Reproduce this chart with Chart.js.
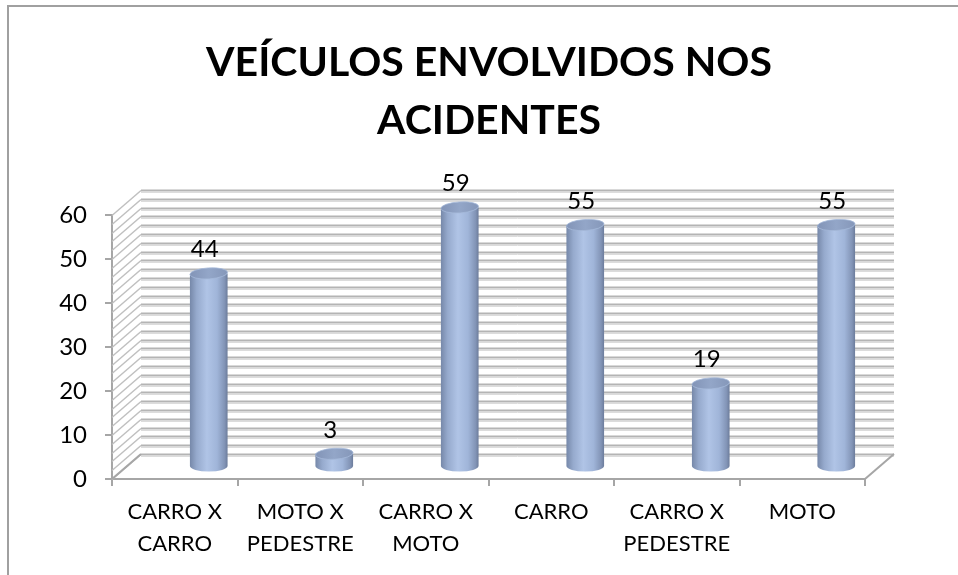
<!DOCTYPE html>
<html>
<head>
<meta charset="utf-8">
<script src="https://cdn.jsdelivr.net/npm/chart.js@4.4.1/dist/chart.umd.min.js"></script>
<style>
  html, body { margin: 0; padding: 0; background: #fff; }
  #wrap { width: 958px; height: 575px; }
</style>
</head>
<body>
<div id="wrap"><canvas id="chart"></canvas></div>
<script>
// data
const titleLines = ['VEÍCULOS ENVOLVIDOS NOS', 'ACIDENTES'];
const categories = [
    ['CARRO X', 'CARRO'],
    ['MOTO X', 'PEDESTRE'],
    ['CARRO X', 'MOTO'],
    ['CARRO'],
    ['CARRO X', 'PEDESTRE'],
    ['MOTO'],
];
const values = [44, 3, 59, 55, 19, 55];
const yMin = 0, yMax = 60, yStep = 10;
const minorStep = 2; // minor gridlines on the walls

// 3D look
const wallDepth = { dx: 29, dy: -25 };
const barDepth = { dx: 34, dy: -12 };
const axisGray = '#a6a6a6';
const fontFamily = 'Lato, "Open Sans", sans-serif';

// frame around the chart object
const framePlugin = {
    id: 'frame',
    beforeDraw(chart) {
        const ctx = chart.ctx;
        ctx.save();
        ctx.strokeStyle = '#a0a0a0';
        ctx.lineWidth = 2;
        ctx.beginPath();
        ctx.moveTo(8, 575);
        ctx.lineTo(8, 6);
        ctx.lineTo(958, 6);
        ctx.stroke();
        ctx.restore();
    }
};

// back wall, side wall and floor
const wallsPlugin = {
    id: 'walls',
    beforeDatasetsDraw(chart) {
        const ctx = chart.ctx;
        const ca = chart.chartArea;
        const y = chart.scales.y;
        const dx = wallDepth.dx, dy = wallDepth.dy;
        ctx.save();
        // gridlines on back wall + diagonals on side wall
        for (let v = yMin; v <= yMax; v += minorStep) {
            const py = Math.round(y.getPixelForValue(v)) + 0.5;
            ctx.lineWidth = 2;
            ctx.strokeStyle = '#b4b4b4';
            ctx.beginPath();
            ctx.moveTo(ca.left + dx, py + dy);
            ctx.lineTo(ca.right + dx, py + dy);
            ctx.stroke();
            ctx.lineWidth = 1;
            ctx.strokeStyle = '#dcdcdc';
            ctx.beginPath();
            ctx.moveTo(ca.left + dx, py + dy + 2);
            ctx.lineTo(ca.right + dx, py + dy + 2);
            ctx.stroke();
            ctx.lineWidth = 1.5;
            ctx.strokeStyle = '#c0c0c0';
            ctx.beginPath();
            ctx.moveTo(ca.left, py);
            ctx.lineTo(ca.left + dx, py + dy);
            ctx.stroke();
        }
        // floor edges
        const y0 = y.getPixelForValue(yMin);
        ctx.lineWidth = 2;
        ctx.strokeStyle = axisGray;
        ctx.beginPath();
        ctx.moveTo(ca.right, y0);
        ctx.lineTo(ca.right + dx, y0 + dy);
        ctx.stroke();
        ctx.beginPath();
        ctx.moveTo(ca.left, y0);
        ctx.lineTo(ca.left + dx, y0 + dy);
        ctx.stroke();
        ctx.restore();
    }
};

// cylinders + value labels
const cylinderPlugin = {
    id: 'cylinders',
    afterDatasetsDraw(chart) {
        const ctx = chart.ctx;
        const meta = chart.getDatasetMeta(0);
        ctx.save();
        meta.data.forEach((bar, i) => {
            const p = bar.getProps(['x', 'y', 'base', 'width'], true);
            const cx = p.x + barDepth.dx;
            const top = p.y + barDepth.dy;
            const bottom = p.base + barDepth.dy;
            const rx = p.width / 2;
            const ry = 5.5;
            const g = ctx.createLinearGradient(cx - rx, 0, cx + rx, 0);
            g.addColorStop(0, '#7688a9');
            g.addColorStop(0.18, '#96aacd');
            g.addColorStop(0.45, '#b0c4e6');
            g.addColorStop(0.72, '#a0b5d9');
            g.addColorStop(0.92, '#8294b6');
            g.addColorStop(1, '#6c7c9b');
            ctx.fillStyle = g;
            ctx.beginPath();
            ctx.moveTo(cx - rx, top);
            ctx.lineTo(cx - rx, bottom);
            ctx.ellipse(cx, bottom, rx, ry, 0, Math.PI, 0, true);
            ctx.lineTo(cx + rx, top);
            ctx.closePath();
            ctx.fill();
            // top cap
            const tg = ctx.createLinearGradient(cx - rx, top, cx + rx, top);
            tg.addColorStop(0, '#8294b7');
            tg.addColorStop(0.5, '#93a6c8');
            tg.addColorStop(1, '#8597b9');
            ctx.fillStyle = tg;
            ctx.beginPath();
            ctx.ellipse(cx, top, rx, ry, -0.06, 0, Math.PI * 2);
            ctx.fill();
            ctx.strokeStyle = 'rgba(165,185,218,0.8)';
            ctx.lineWidth = 1;
            ctx.stroke();
            // value label
            ctx.fillStyle = '#000';
            ctx.font = '24px ' + fontFamily;
            ctx.textAlign = 'center';
            ctx.textBaseline = 'middle';
            ctx.fillText(String(values[i]), cx - 4, top - 24);
        });
        ctx.restore();
    }
};

const ctx = document.getElementById('chart').getContext('2d');
new Chart(ctx, {
    type: 'bar',
    data: {
        labels: categories,
        datasets: [{
            data: values,
            backgroundColor: 'rgba(0,0,0,0)',
            borderWidth: 0,
            barPercentage: 0.3,
            categoryPercentage: 1,
        }],
    },
    options: {
        responsive: true,
        maintainAspectRatio: false,
        animation: false,
        layout: { padding: { left: 20, right: 0, top: 0, bottom: 0 } },
        plugins: {
            legend: { display: false },
            tooltip: { enabled: false },
            title: {
                display: true,
                text: titleLines,
                color: '#000',
                font: { family: fontFamily, size: 41, weight: 'bold', lineHeight: 58 / 41 },
                padding: { top: 34, bottom: 65 },
            },
        },
        scales: {
            x: {
                grid: { drawOnChartArea: false, drawTicks: true, tickLength: 7, color: axisGray, lineWidth: 2 },
                border: { color: axisGray, width: 2 },
                ticks: {
                    color: '#000',
                    padding: 10,
                    maxRotation: 0,
                    autoSkip: false,
                    font: { family: fontFamily, size: 22, lineHeight: 32 / 22 },
                },
                afterFit(scale) { scale.height = 96; },
            },
            y: {
                min: yMin,
                max: yMax,
                grid: { drawOnChartArea: false, drawTicks: true, tickLength: 7, color: axisGray, lineWidth: 2 },
                border: { color: axisGray, width: 2 },
                ticks: {
                    stepSize: yStep,
                    color: '#000',
                    padding: 18,
                    font: { family: fontFamily, size: 24 },
                },
                afterFit(scale) { scale.width = 92; },
            },
            yRight: {
                position: 'right',
                display: true,
                grid: { display: false },
                border: { display: false },
                ticks: { display: false },
                afterFit(scale) { scale.width = 93; },
            },
        },
    },
    plugins: [framePlugin, wallsPlugin, cylinderPlugin],
});
</script>
</body>
</html>
